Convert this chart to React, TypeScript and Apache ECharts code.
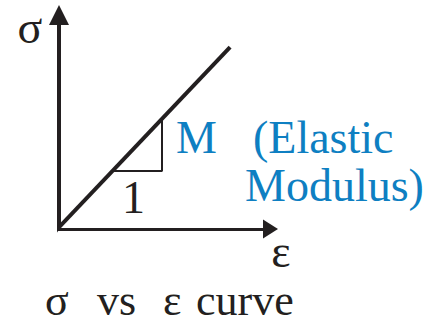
import React, { useEffect, useRef } from "react";
import * as echarts from "echarts";

// Elastic (linear) part of the stress–strain curve
const strainValues = [-0.43, 8.09];
const stressValues = [-0.37, 8.5];
// slope triangle (run = 1, rise = M)
const triangleStrain = [2.53, 4.87, 4.87];
const triangleStress = [2.71, 2.71, 5.15];
const axisMin = 0;
const axisMax = 10;

const INK = "#231f20";
const BLUE = "#0e7fc2";
const FONT = "Liberation Serif";

export default function App() {
  const ref = useRef<HTMLDivElement>(null);
  useEffect(() => {
    if (!ref.current) return;
    const chart = echarts.init(ref.current, undefined, { renderer: "svg" });
    const curve = strainValues.map((x, i) => [x, stressValues[i]]);
    const tri = triangleStrain.map((x, i) => [x, triangleStress[i]]);
    const txt = (text: string, x: number, y: number, size: number, fill: string, align: string = "left") => ({
      type: "text",
      silent: true,
      style: {
        text,
        x,
        y,
        fill,
        font: `${size}px "${FONT}"`,
        textAlign: align,
        textVerticalAlign: "middle",
      },
    });
    chart.setOption({
      animation: false,
      grid: { left: 59, top: 15, right: 166.5, bottom: 96, outerBoundsMode: "none", containLabel: false },
      xAxis: {
        type: "value",
        min: axisMin,
        max: axisMax,
        axisLine: {
          show: true,
          symbol: ["none", "triangle"],
          symbolSize: [19, 15],
          lineStyle: { color: INK, width: 3 },
        },
        axisTick: { show: false },
        axisLabel: { show: false },
        splitLine: { show: false },
      },
      yAxis: {
        type: "value",
        min: axisMin,
        max: axisMax,
        axisLine: {
          show: true,
          symbol: ["none", "triangle"],
          symbolSize: [20, 20],
          lineStyle: { color: INK, width: 4 },
        },
        axisTick: { show: false },
        axisLabel: { show: false },
        splitLine: { show: false },
      },
      series: [
        {
          type: "line",
          data: curve,
          showSymbol: false,
          clip: false,
          silent: true,
          lineStyle: { color: INK, width: 4 },
        },
        {
          type: "line",
          data: tri,
          showSymbol: false,
          clip: false,
          silent: true,
          lineStyle: { color: INK, width: 2 },
        },
      ],
      graphic: [
        txt("σ", 30, 27, 46, INK, "center"),
        txt("ε", 281, 251.5, 46, INK, "center"),
        txt("1", 133.5, 197.5, 46, INK, "center"),
        txt("M", 176, 137.5, 46, BLUE),
        txt("(Elastic", 253, 137.5, 46, BLUE),
        txt("Modulus)", 245, 185.5, 46, BLUE),
        txt("σ", 45, 300.5, 44, INK),
        txt("vs", 97, 300.5, 44, INK),
        txt("ε", 163, 300.5, 44, INK),
        txt("curve", 196, 300.5, 44, INK),
      ],
    });
    return () => chart.dispose();
  }, []);
  return (
    <div
      ref={ref}
      style={{ position: "absolute", left: 0, top: 0, width: 437, height: 325, background: "#fff" }}
    />
  );
}
